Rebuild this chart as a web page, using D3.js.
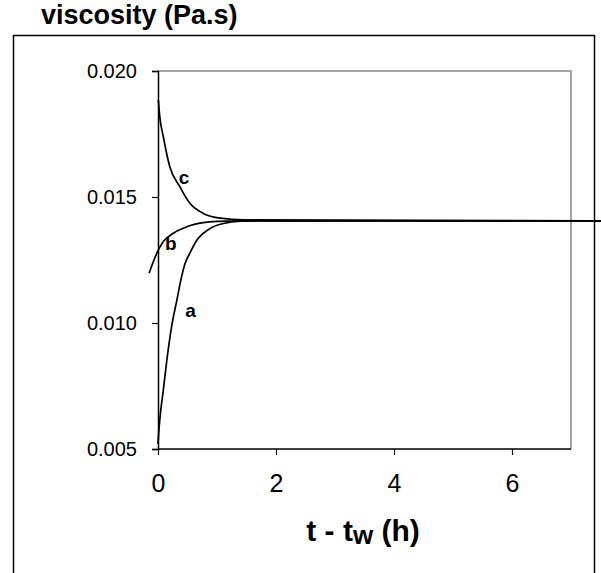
<!DOCTYPE html>
<html>
<head>
<meta charset="utf-8">
<script src="https://cdn.jsdelivr.net/npm/d3@7"></script>
<style>
  html, body { margin: 0; padding: 0; background: #fff; }
  svg { display: block; font-family: Arial, "Liberation Sans", Helvetica, sans-serif; }
</style>
</head>
<body>
<svg id="chart" width="601" height="573"></svg>
<script>
// ---- data ----
const xTicks = [0, 2, 4, 6];
const yTicks = [0.005, 0.010, 0.015, 0.020];
const yTickLabels = ["0.005", "0.010", "0.015", "0.020"];

const tA = [0.0, 0.005, 0.03, 0.09, 0.15, 0.23, 0.32, 0.40, 0.46, 0.54, 0.66, 0.89, 1.11, 1.40, 1.8, 7.6];
const visA = [0.0052, 0.0054, 0.00615, 0.00734, 0.00853, 0.00985, 0.01091, 0.01184, 0.01237, 0.01277, 0.01329, 0.01376, 0.01395, 0.01404, 0.01405, 0.01405];

const tB = [-0.15, -0.02, 0.09, 0.26, 0.49, 0.77, 1.0, 1.4, 7.6];
const visB = [0.01198, 0.01277, 0.01323, 0.01356, 0.01382, 0.01398, 0.01403, 0.01405, 0.01405];

const tC = [0.005, 0.03, 0.09, 0.20, 0.37, 0.54, 0.77, 1.06, 1.45, 7.6];
const visC = [0.01885, 0.01819, 0.01739, 0.0162, 0.01541, 0.01475, 0.01435, 0.01416, 0.01409, 0.01405];

const seriesLabels = ["a", "b", "c"];
const labelAt = [[0.46, 0.01025], [0.12, 0.0129], [0.35, 0.0155]];

// ---- layout ----
const svg = d3.select("#chart");
const x = d3.scaleLinear().domain([0, 7]).range([158, 571]);
const y = d3.scaleLinear().domain([0.005, 0.020]).range([449, 71]);

// outer frame (no bottom edge)
svg.append("path")
  .attr("d", "M13.5,573 L13.5,35.5 L594.5,35.5 L594.5,573")
  .attr("fill", "none").attr("stroke", "#000").attr("stroke-width", 1.5);

// title
svg.append("text").attr("x", 41).attr("y", 24)
  .attr("font-size", 27).attr("font-weight", "bold").attr("fill", "#000")
  .text("viscosity (Pa.s)");

// top & right grey plot border
svg.append("path")
  .attr("d", `M${x(0)},${y(0.020)} L${x(7)},${y(0.020)} L${x(7)},${y(0.005)}`)
  .attr("fill", "none").attr("stroke", "#888").attr("stroke-width", 1.5);

// y axis
const yAxis = d3.axisLeft(y).tickValues(yTicks).tickSize(6).tickPadding(15)
  .tickFormat((d, i) => yTickLabels[i]);
const gy = svg.append("g").attr("transform", `translate(${x(0)},0)`).call(yAxis);
gy.select(".domain").attr("stroke", "#000").attr("stroke-width", 1.5);
gy.selectAll(".tick line").attr("stroke", "#000").attr("stroke-width", 1.2);
gy.selectAll(".tick text").attr("font-size", 20).attr("font-family", "Arial, 'Liberation Sans', sans-serif").attr("fill", "#000");

// x axis
const xAxis = d3.axisBottom(x).tickValues(xTicks).tickSize(6).tickPadding(19).tickFormat(d3.format("d"));
const gx = svg.append("g").attr("transform", `translate(0,${y(0.005)})`).call(xAxis);
gx.select(".domain").attr("stroke", "#000").attr("stroke-width", 1.5).attr("d", `M${x(0)},0H${x(7)}`);
gx.selectAll(".tick line").attr("stroke", "#000").attr("stroke-width", 1.2);
gx.selectAll(".tick text").attr("font-size", 25).attr("font-family", "Arial, 'Liberation Sans', sans-serif").attr("fill", "#000");

// x axis title
const xt = svg.append("text").attr("x", 363).attr("y", 541).attr("text-anchor", "middle")
  .attr("font-size", 30).attr("font-weight", "bold").attr("fill", "#000");
xt.append("tspan").text("t - t");
xt.append("tspan").attr("font-size", 26).attr("dy", 3).text("w");
xt.append("tspan").attr("dy", -3).text(" (h)");

// curves
const line = d3.line().x(d => x(d[0])).y(d => y(d[1])).curve(d3.curveMonotoneX);
const series = [d3.zip(tA, visA), d3.zip(tB, visB), d3.zip(tC, visC)];
svg.append("g").selectAll("path").data(series).join("path")
  .attr("d", line).attr("fill", "none").attr("stroke", "#000").attr("stroke-width", 1.7);

// curve labels
svg.append("g").selectAll("text").data(seriesLabels).join("text")
  .attr("x", (d, i) => x(labelAt[i][0])).attr("y", (d, i) => y(labelAt[i][1]))
  .attr("font-size", 19).attr("font-weight", "bold").attr("fill", "#000")
  .text(d => d);
</script>
</body>
</html>
